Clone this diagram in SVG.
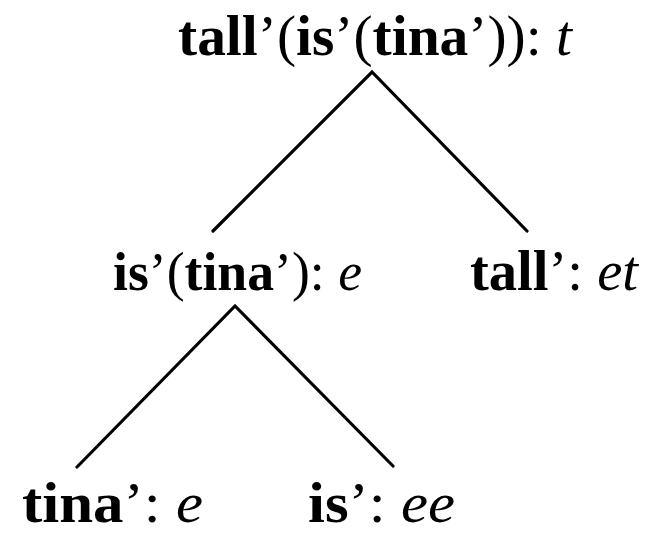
<svg xmlns="http://www.w3.org/2000/svg" width="658" height="534" viewBox="0 0 658 534">
<style>
text{font-family:"Liberation Serif","Times New Roman",serif;font-size:57px;fill:#000}
.b{font-weight:bold}
.i{font-style:italic}
.edge{stroke:#000;stroke-width:3.2;fill:none;stroke-linecap:round}
</style>
<rect width="658" height="534" fill="#fff"/>
<g id="connectors">
<path class="edge" d="M213,231 L372,72 L527,231"/>
<path class="edge" d="M77,467 L235,306 L393,466"/>
</g>
<g id="root">
<text x="178" y="55" textLength="394" lengthAdjust="spacingAndGlyphs"><tspan class="b">tall</tspan>’(<tspan class="b">is</tspan>’(<tspan class="b">tina</tspan>’)): <tspan class="i">t</tspan></text>
</g>
<g id="is-tina">
<text x="113" y="290" style="font-size:55px" textLength="249" lengthAdjust="spacingAndGlyphs"><tspan class="b">is</tspan>’(<tspan class="b">tina</tspan>’): <tspan class="i">e</tspan></text>
</g>
<g id="tall">
<text x="470" y="290" textLength="168" lengthAdjust="spacingAndGlyphs"><tspan class="b">tall</tspan>’: <tspan class="i">et</tspan></text>
</g>
<g id="tina">
<text x="22" y="522" textLength="181" lengthAdjust="spacingAndGlyphs"><tspan class="b">tina</tspan>’: <tspan class="i">e</tspan></text>
</g>
<g id="is">
<text x="308" y="522" textLength="147" lengthAdjust="spacingAndGlyphs"><tspan class="b">is</tspan>’: <tspan class="i">ee</tspan></text>
</g>
</svg>
